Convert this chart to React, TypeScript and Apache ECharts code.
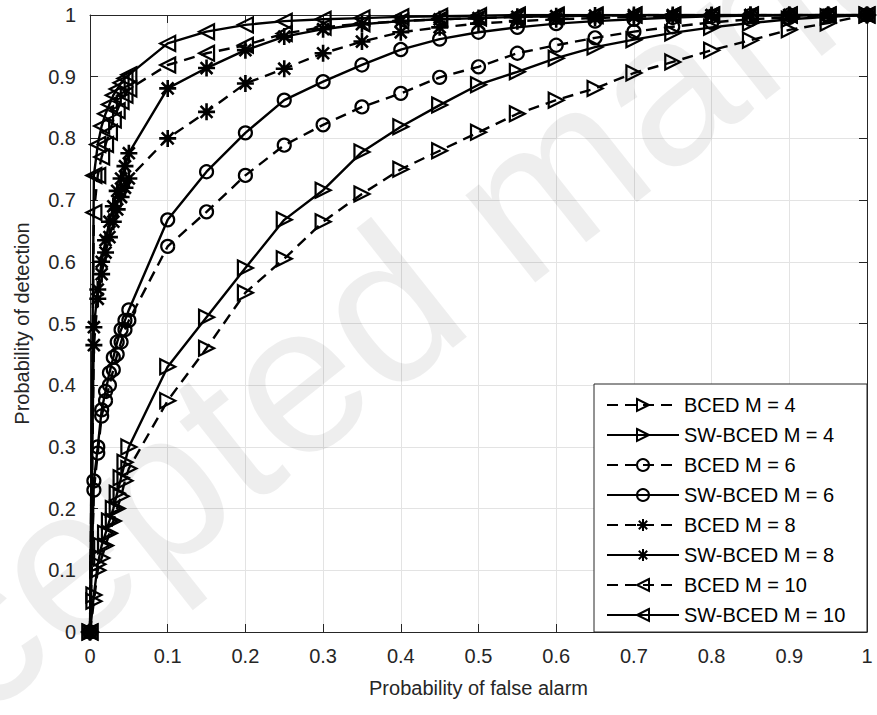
import React, { useEffect, useRef } from "react";
import * as echarts from "echarts";

const pfa = [0, 0.005, 0.01, 0.015, 0.02, 0.025, 0.03, 0.035, 0.04, 0.045, 0.05, 0.1, 0.15, 0.2, 0.25, 0.3, 0.35, 0.4, 0.45, 0.5, 0.55, 0.6, 0.65, 0.7, 0.75, 0.8, 0.85, 0.9, 0.95, 1];

const bcedM4 = [0, 0.05, 0.1, 0.12, 0.14, 0.16, 0.18, 0.2, 0.22, 0.245, 0.265, 0.375, 0.46, 0.55, 0.605, 0.665, 0.71, 0.75, 0.78, 0.81, 0.84, 0.862, 0.881, 0.906, 0.924, 0.943, 0.959, 0.976, 0.987, 1];
const swM4 = [0, 0.06, 0.11, 0.14, 0.16, 0.18, 0.2, 0.225, 0.25, 0.275, 0.3, 0.43, 0.51, 0.59, 0.668, 0.716, 0.778, 0.819, 0.854, 0.887, 0.908, 0.93, 0.948, 0.96, 0.971, 0.98, 0.987, 0.993, 0.997, 1];
const bcedM6 = [0, 0.23, 0.29, 0.35, 0.375, 0.4, 0.425, 0.45, 0.47, 0.49, 0.505, 0.625, 0.681, 0.74, 0.789, 0.822, 0.851, 0.873, 0.899, 0.916, 0.938, 0.951, 0.963, 0.973, 0.981, 0.988, 0.993, 0.996, 0.998, 1];
const swM6 = [0, 0.245, 0.3, 0.36, 0.39, 0.42, 0.445, 0.47, 0.49, 0.505, 0.522, 0.668, 0.746, 0.809, 0.862, 0.892, 0.919, 0.944, 0.961, 0.972, 0.98, 0.986, 0.99, 0.993, 0.996, 0.998, 0.999, 1, 1, 1];
const bcedM8 = [0, 0.465, 0.54, 0.58, 0.615, 0.64, 0.665, 0.685, 0.705, 0.72, 0.735, 0.8, 0.843, 0.889, 0.913, 0.938, 0.957, 0.972, 0.98, 0.986, 0.99, 0.993, 0.995, 0.997, 0.998, 0.999, 1, 1, 1, 1];
const swM8 = [0, 0.494, 0.555, 0.6, 0.635, 0.665, 0.69, 0.715, 0.735, 0.755, 0.776, 0.881, 0.914, 0.943, 0.965, 0.977, 0.985, 0.99, 0.993, 0.995, 0.997, 0.998, 0.999, 1, 1, 1, 1, 1, 1, 1];
const bcedM10 = [0, 0.68, 0.74, 0.77, 0.79, 0.81, 0.83, 0.845, 0.86, 0.87, 0.88, 0.919, 0.938, 0.951, 0.97, 0.98, 0.986, 0.99, 0.993, 0.995, 0.997, 0.998, 0.999, 1, 1, 1, 1, 1, 1, 1];
const swM10 = [0, 0.74, 0.79, 0.82, 0.84, 0.855, 0.87, 0.88, 0.89, 0.897, 0.903, 0.954, 0.973, 0.984, 0.99, 0.993, 0.995, 0.997, 0.998, 0.999, 1, 1, 1, 1, 1, 1, 1, 1, 1, 1];

const seriesNames = [
  "BCED M = 4",
  "SW-BCED M = 4",
  "BCED M = 6",
  "SW-BCED M = 6",
  "BCED M = 8",
  "SW-BCED M = 8",
  "BCED M = 10",
  "SW-BCED M = 10",
];
const seriesValues = [bcedM4, swM4, bcedM6, swM6, bcedM8, swM8, bcedM10, swM10];

const xTitle = "Probability of false alarm";
const yTitle = "Probability of detection";
const watermark = "Accepted manuscript";

const TRI_RIGHT = "path://M0,0L18,10L0,20Z";
const TRI_LEFT = "path://M18,0L0,10L18,20Z";
const STAR = "path://M10,0L10,20M0,10L20,10M3,3L17,17M3,17L17,3";
const symbols = [TRI_RIGHT, TRI_RIGHT, "circle", "circle", STAR, STAR, TRI_LEFT, TRI_LEFT];
const symbolSizes = [15, 15, 13, 13, 17, 17, 15, 15];

const FONT = "'Liberation Sans', Arial, Helvetica, sans-serif";

export default function App() {
  const ref = useRef<HTMLDivElement>(null);

  useEffect(() => {
    if (!ref.current) return;
    const chart = echarts.init(ref.current, null, { renderer: "svg" });

    const series = seriesNames.map((name, i) => ({
      name,
      type: "line",
      data: pfa.map((x, k) => [x, seriesValues[i][k]]),
      symbol: symbols[i],
      symbolSize: symbolSizes[i],
      showAllSymbol: true,
      lineStyle: {
        color: "#000",
        width: 2.4,
        type: i % 2 === 0 ? [11, 7] : "solid",
      },
      itemStyle: {
        color: "rgba(255,255,255,0)",
        borderColor: "#000",
        borderWidth: symbols[i] === STAR ? 2.6 : 2.2,
      },
      emphasis: { disabled: true },
      z: 3,
    }));

    const axisCommon = {
      type: "value",
      min: 0,
      max: 1,
      interval: 0.1,
      axisLine: { show: true, onZero: false, lineStyle: { color: "#262626", width: 1 } },
      axisTick: { show: true, inside: true, length: 8, lineStyle: { color: "#262626", width: 1 } },
    };

    chart.setOption({
      animation: false,
      backgroundColor: "#fff",
      textStyle: { fontFamily: FONT },
      grid: { left: 90, right: 10, top: 15, bottom: 83 },
      graphic: [
        {
          type: "text",
          x: 515,
          y: 205,
          rotation: 0.67,
          z: 100,
          silent: true,
          style: {
            text: watermark,
            fontSize: 212,
            fontFamily: FONT,
            fill: "rgba(0,0,0,0.065)",
            align: "center",
            verticalAlign: "middle",
          },
        },
        {
          type: "rect",
          shape: { x: 594, y: 384, width: 273, height: 248 },
          z: 5,
          style: { fill: "#fff", stroke: "#262626", lineWidth: 1 },
        },
      ],
      legend: {
        orient: "vertical",
        left: 606,
        top: 395,
        padding: 0,
        itemWidth: 72,
        itemHeight: 15,
        itemGap: 10,
        z: 6,
        selectedMode: false,
        textStyle: { fontSize: 20, color: "#000", fontFamily: FONT, lineHeight: 20 },
        data: seriesNames,
      },
      xAxis: [
        {
          ...axisCommon,
          position: "bottom",
          name: xTitle,
          nameLocation: "middle",
          nameGap: 46,
          nameTextStyle: { fontSize: 20, color: "#262626", fontFamily: FONT },
          axisLabel: { fontSize: 20, color: "#262626", margin: 14, fontFamily: FONT },
          splitLine: { show: true, lineStyle: { color: "#e3e3e3", width: 1 } },
        },
        {
          ...axisCommon,
          position: "top",
          axisLabel: { show: false },
          splitLine: { show: false },
        },
      ],
      yAxis: [
        {
          ...axisCommon,
          position: "left",
          name: yTitle,
          nameLocation: "middle",
          nameGap: 58,
          nameTextStyle: { fontSize: 20, color: "#262626", fontFamily: FONT },
          axisLabel: { fontSize: 20, color: "#262626", margin: 14, fontFamily: FONT },
          splitLine: { show: true, lineStyle: { color: "#e3e3e3", width: 1 } },
        },
        {
          ...axisCommon,
          position: "right",
          axisLabel: { show: false },
          splitLine: { show: false },
        },
      ],
      series,
    });

    return () => chart.dispose();
  }, []);

  return (
    <div
      ref={ref}
      style={{ position: "absolute", left: 0, top: 0, width: 877, height: 715, background: "#fff" }}
    />
  );
}
